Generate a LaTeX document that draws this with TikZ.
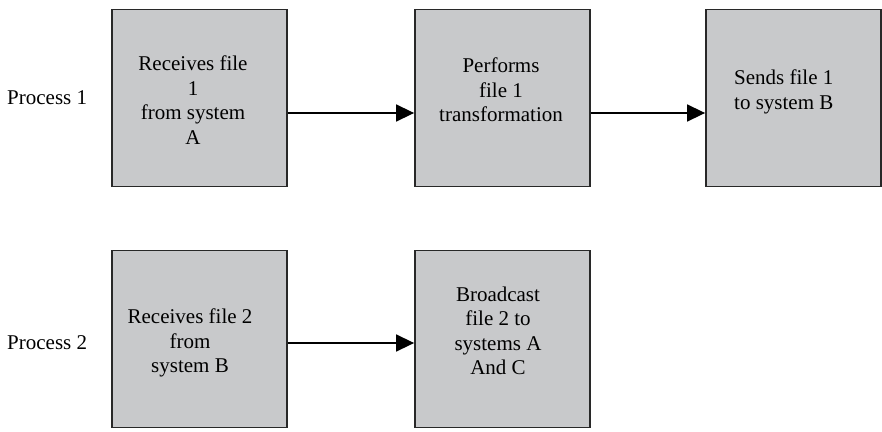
\documentclass[tikz,border=0pt]{standalone}
\usepackage{fontspec}
\setmainfont{Liberation Serif}
\usetikzlibrary{arrows.meta}
\definecolor{boxfill}{RGB}{200,201,203}
\definecolor{boxline}{RGB}{40,40,40}
\tikzset{
  stepbox/.style={draw=boxline, line width=1.8pt, fill=boxfill,
    minimum width=175pt, minimum height=177pt, inner sep=0pt},
  boxtext/.style={font=\fontsize{21pt}{24.5pt}\selectfont, align=center, inner sep=0pt},
  proclabel/.style={font=\fontsize{21pt}{24.5pt}\selectfont, anchor=west, inner sep=0pt},
  flow/.style={line width=1.5pt, -{Triangle[length=18pt,width=17pt]}}
}
\begin{document}
\begin{tikzpicture}[x=1pt,y=-1pt]
  \useasboundingbox (0,0) rectangle (882,431);

  % row labels
  \node[proclabel] (p1) at (7,98) {Process 1};
  \node[proclabel] (p2) at (7,343) {Process 2};

  % process 1 boxes
  \node[stepbox] (b1) at (199.5,98) {};
  \node[stepbox] (b2) at (502.5,98) {};
  \node[stepbox] (b3) at (793.5,98) {};
  % process 2 boxes
  \node[stepbox] (b4) at (199.5,339) {};
  \node[stepbox] (b5) at (502.5,339) {};

  % box texts
  \node[boxtext] (t1) at (193,100) {Receives file\\1\\from system\\A};
  \node[boxtext] (t2) at (501,90) {Performs\\file 1\\transformation};
  \node[boxtext, align=left, anchor=west] (t3) at (734,92) {Sends file 1\\to system B};
  \node[boxtext] (t4) at (190,343) {Receives file 2\\from\\system B};
  \node[boxtext] (t5) at (498,331) {Broadcast\\file 2 to\\systems A\\And C};

  % connectors
  \draw[flow] ([yshift=-15pt]b1.east) -- ([yshift=-15pt]b2.west);
  \draw[flow] ([yshift=-15pt]b2.east) -- ([yshift=-15pt]b3.west);
  \draw[flow] ([yshift=-4pt]b4.east) -- ([yshift=-4pt]b5.west);
\end{tikzpicture}
\end{document}
